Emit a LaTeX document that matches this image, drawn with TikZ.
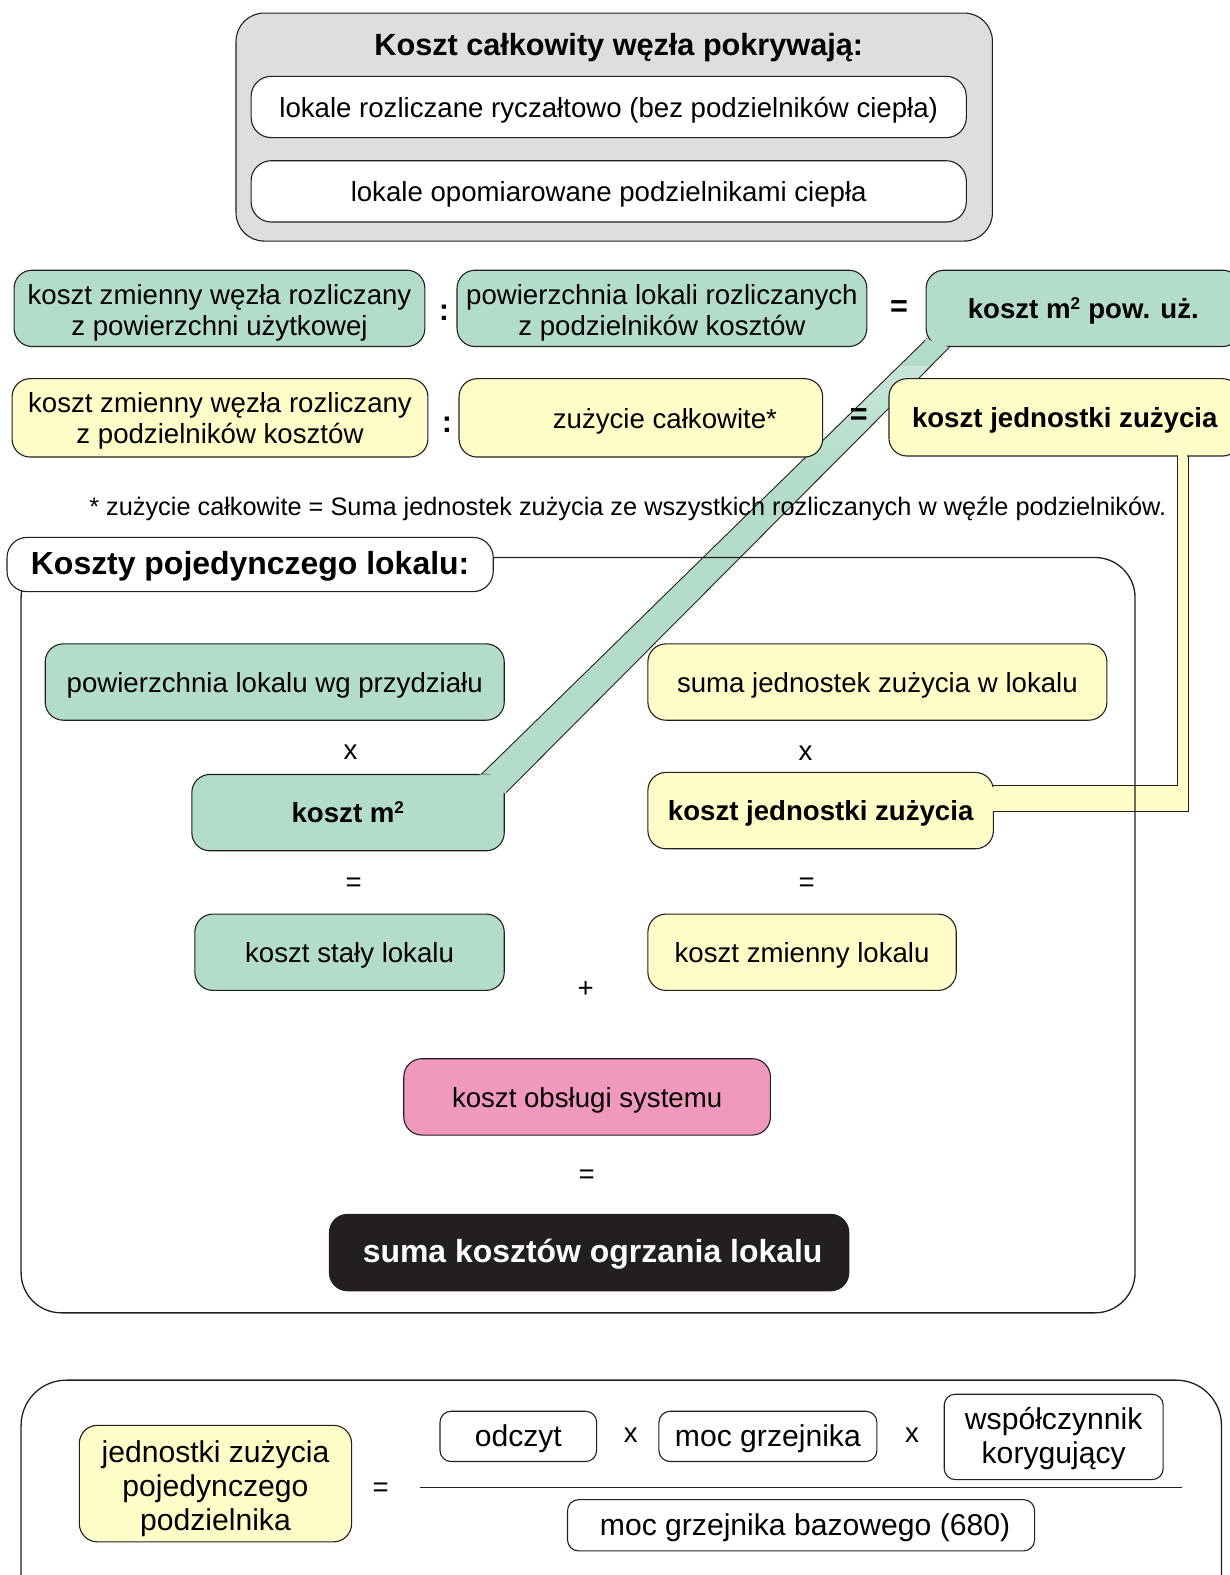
\documentclass[tikz,border=0pt]{standalone}
\usepackage{fontspec}
\setmainfont{Liberation Sans}
\usetikzlibrary{calc}
\definecolor{greenc}{RGB}{179,221,201}
\definecolor{yellowc}{RGB}{255,253,199}
\definecolor{grayc}{RGB}{222,222,222}
\definecolor{pinkc}{RGB}{241,153,189}
\definecolor{darkc}{RGB}{35,31,32}
\definecolor{linec}{RGB}{35,31,32}
\newcommand\myfn{\fontsize{27.5pt}{31pt}\selectfont}
\newcommand\myfb{\fontsize{27.5pt}{31pt}\selectfont\bfseries}
\newcommand\myft{\fontsize{30.5pt}{34pt}\selectfont\bfseries}
\newcommand\myfk{\fontsize{31.8pt}{36pt}\selectfont\bfseries}
\newcommand\myfl{\fontsize{30pt}{33.5pt}\selectfont}
\newcommand\myff{\fontsize{25.2pt}{28pt}\selectfont}
\newcommand\sqm{m\textsuperscript{\fontsize{17pt}{17pt}\selectfont 2}}
\newcommand\mystrut[1]{\rule{0pt}{#1}}
\begin{document}
\begin{tikzpicture}[x=1pt,y=-1pt,
  box/.style={draw=linec,line width=1.1pt,rounded corners=18pt,align=center,inner sep=0pt,font=\myfn,
    execute at begin node={\rule[-6pt]{0pt}{32.5pt}}},
  gbox/.style={box,fill=greenc},
  ybox/.style={box,fill=yellowc},
  wbox/.style={box,fill=white},
  sbox/.style={box,fill=white,rounded corners=11pt,font=\myfl},
  op/.style={inner sep=0pt,font=\myfn,yshift=-3pt},
  bop/.style={inner sep=0pt,font=\myft,yshift=-2pt},
  bandline/.style={draw=linec,line width=0.9pt},
  frame/.style={draw=linec,line width=1.3pt}]
\useasboundingbox (0,0) rectangle (1224,1568);
\fill[white] (0,0) rectangle (1224,1568);

% ---- green band (koszt m2 pow. uz. -> koszt m2)
\coordinate (gA) at (478,772);
\coordinate (gB) at (923,337);
\coordinate (gC) at (946,345);
\coordinate (gD) at (503,790);
\fill[greenc] (gA)--(gB)--(gC)--(gD)--cycle;
\begin{scope}
  \clip (gA)--(gB)--(gC)--(gD)--cycle;
  \shade[top color=greenc!75,middle color=white,bottom color=greenc] (400,365) rectangle (1000,475);
\end{scope}
\draw[bandline] (gA)--(gB);
\draw[bandline] (gD)--(gC);

% ---- yellow band (koszt jednostki zuzycia -> koszt jednostki zuzycia)
\coordinate (yA) at (1172,445);
\coordinate (yB) at (1183,445);
\coordinate (yC) at (1183,808);
\coordinate (yD) at (985,808);
\coordinate (yE) at (985,782);
\coordinate (yF) at (1172,782);
\filldraw[fill=yellowc,draw=linec,line width=0.9pt] (yA)--(yF)--(yE)--(yD)--(yC)--(yB);

% ---- frames
\draw[frame,rounded corners=40pt] (21,555) rectangle (1130,1307);
\draw[frame,rounded corners=45pt] (21,1374) rectangle (1216,1640);

% ---- top box
\node[box,fill=grayc,rounded corners=28pt,minimum width=753pt,minimum height=227pt,execute at begin node={}] (top) at (611.5,126.5) {};
\node[inner sep=0pt,font=\myft] (ttl) at (616,47) {Koszt całkowity węzła pokrywają:};
\node[wbox,rounded corners=20pt,minimum width=712pt,minimum height=61pt] (r1) at (606,106.5) {lokale rozliczane ryczałtowo (bez podzielników ciepła)};
\node[wbox,rounded corners=20pt,minimum width=712pt,minimum height=61pt] (r2) at (606,190.5) {lokale opomiarowane podzielnikami ciepła};

% ---- row 1
\node[gbox,minimum width=409pt,minimum height=76pt] (A) at (218.5,307) {\mystrut{29pt}koszt zmienny węzła rozliczany\\z powierzchni użytkowej};
\node[bop] (c1) at (442,309) {:};
\node[gbox,minimum width=408pt,minimum height=76pt] (B) at (659,307) {\mystrut{29pt}powierzchnia lokali rozliczanych\\z podzielników kosztów};
\node[bop] (e1) at (895,305) {=};
\node[gbox,minimum width=313pt,minimum height=76pt,font=\myfb] (C) at (1078.5,307) {koszt \sqm{} pow. uż.};

% ---- row 2
\node[ybox,minimum width=414pt,minimum height=78pt] (D) at (219,416) {\mystrut{27pt}koszt zmienny węzła rozliczany\\z podzielników kosztów};
\node[bop] (c2) at (445,421) {:};
\node[ybox,minimum width=362pt,minimum height=78pt] (E) at (638,416) {\hspace*{48pt}zużycie całkowite*};
\node[bop] (e2) at (855,413) {=};
\node[ybox,minimum width=350pt,minimum height=77pt,font=\myfb] (F) at (1060,415.5) {koszt jednostki zużycia};

% ---- footnote
\node[inner sep=0pt,font=\myff] (fn) at (625,507) {* zużycie całkowite = Suma jednostek zużycia ze wszystkich rozliczanych w węźle podzielników.};

% ---- single flat frame contents
\node[wbox,rounded corners=20pt,minimum width=484pt,minimum height=54pt,font=\myfk] (tb) at (249,562) {Koszty pojedynczego lokalu:};

\node[gbox,minimum width=457pt,minimum height=76pt] (G1) at (273.5,679) {powierzchnia lokalu wg przydziału};
\node[op] (x1) at (349,746) {x};
\node[gbox,minimum width=311pt,minimum height=76pt,font=\myfb] (G2) at (346.5,809) {koszt \sqm};
\node[op] (e3) at (352,878) {=};
\node[gbox,minimum width=308pt,minimum height=76pt] (G3) at (348,948) {koszt stały lokalu};

\node[ybox,minimum width=457pt,minimum height=76pt] (Y1) at (873.5,679) {suma jednostek zużycia w lokalu};
\node[op] (x2) at (802,747) {x};
\node[ybox,minimum width=344pt,minimum height=76pt,font=\myfb] (Y2) at (817,807) {koszt jednostki zużycia};
\node[op] (e4) at (803,878) {=};
\node[ybox,minimum width=307pt,minimum height=76pt] (Y3) at (798.5,948) {koszt zmienny lokalu};

\node[op] (pl) at (583,982) {+};
\node[box,fill=pinkc,minimum width=365pt,minimum height=76pt] (P) at (584.5,1092) {koszt obsługi systemu};
\node[op] (e5) at (584,1168) {=};
\node[box,fill=darkc,text=white,minimum width=517pt,minimum height=76pt,font=\myfk] (K) at (586.5,1247) {\hspace*{7pt}suma kosztów ogrzania lokalu};

% ---- bottom formula
\node[ybox,font=\myfl,minimum width=271pt,minimum height=116pt] (J) at (214.5,1477) {\mystrut{32pt}jednostki zużycia\\pojedynczego\\podzielnika};
\node[op] (e6) at (379,1480) {=};
\coordinate (fl) at (418,1481);
\coordinate (fr) at (1177,1481);
\draw[draw=linec,line width=1.1pt] (fl)--(fr);
\node[sbox,minimum width=156pt,minimum height=50pt] (O1) at (516,1430) {odczyt};
\node[op] (xa) at (628,1426) {x};
\node[sbox,minimum width=217pt,minimum height=50pt] (O2) at (764.5,1430) {moc grzejnika};
\node[op] (xb) at (908,1426) {x};
\node[sbox,minimum width=218pt,minimum height=85pt] (O3) at (1049,1430.5) {\mystrut{26pt}współczynnik\\korygujący};
\node[sbox,minimum width=465pt,minimum height=51pt] (O4) at (797.5,1518.5) {\hspace*{8pt}moc grzejnika bazowego (680)};

% ---- junction patches
\fill[greenc] (477,770.8) -- (504.2,770.8) -- (504.2,791) -- cycle;
\fill[greenc] (921.2,337) -- (921.2,346.2) -- (946,346.2) -- cycle;
\fill[yellowc] (1173,449) rectangle (1182,460);
\fill[yellowc] (983,783) rectangle (992,807);
\end{tikzpicture}
\end{document}
